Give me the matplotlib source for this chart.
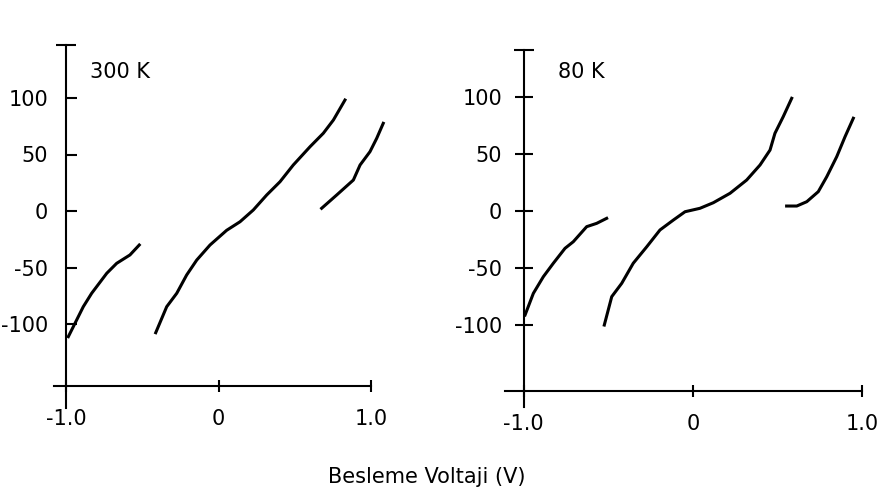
import numpy as np
import matplotlib
matplotlib.use('Agg')
import matplotlib.pyplot as plt

plt.rcParams['font.family'] = ['DejaVu Sans']

# 300 K panel: three branches (V, I)
v300_a = [-0.986, -0.888, -0.833, -0.734, -0.669, -0.582, -0.521]
i300_a = [-111.2, -84.7, -72.8, -55.1, -46.3, -38.9, -30.1]
v300_b = [-0.413, -0.341, -0.275, -0.210, -0.144, -0.057, 0.052, 0.140, 0.227,
          0.315, 0.402, 0.489, 0.599, 0.686, 0.752, 0.828]
i300_b = [-107.7, -84.7, -72.8, -56.6, -43.4, -30.1, -17.1, -9.5, 0.9,
          14.2, 25.9, 40.7, 56.9, 68.8, 80.5, 98.2]
v300_c = [0.675, 0.774, 0.883, 0.927, 0.992, 1.036, 1.079]
i300_c = [2.4, 14.2, 27.4, 40.7, 52.5, 64.3, 77.6]

# 80 K panel
v80_a = [-0.992, -0.943, -0.884, -0.825, -0.756, -0.707, -0.628, -0.569, -0.510]
i80_a = [-91.5, -72.5, -57.9, -46.1, -33.0, -27.2, -14.0, -11.1, -6.7]
v80_b = [-0.524, -0.480, -0.421, -0.353, -0.273, -0.195, -0.116, -0.047, 0.041,
         0.120, 0.219, 0.317, 0.396, 0.455, 0.484, 0.533, 0.583]
i80_b = [-100.3, -75.4, -63.7, -46.1, -31.6, -16.9, -8.2, -0.9, 2.1,
         7.0, 15.3, 26.9, 40.1, 53.2, 67.9, 82.5, 98.6]
v80_c = [0.553, 0.613, 0.672, 0.740, 0.790, 0.849, 0.898, 0.947]
i80_c = [4.1, 4.1, 7.9, 16.7, 29.8, 47.4, 64.9, 81.1]

x_ticks = [-1.0, 0.0, 1.0]
x_labels = ['-1.0', '0', '1.0']
y_ticks = [-100, -50, 0, 50, 100]
y_labels = ['-100', '-50', '0', '50', '100']

W, H = 888, 491
fig = plt.figure(figsize=(W / 100, H / 100), dpi=100)
fs = 15


def panel(rect, xlim, ylim, xaxis_y, ybounds, xbounds, series, title, title_xy,
          ytick_dir, ytick_len, ypad):
    ax = fig.add_axes(rect)
    ax.set_xlim(*xlim)
    ax.set_ylim(*ylim)
    for s in ['top', 'right']:
        ax.spines[s].set_visible(False)
    ax.spines['left'].set_position(('data', -1.0))
    ax.spines['bottom'].set_position(('data', xaxis_y))
    ax.spines['left'].set_bounds(*ybounds)
    ax.spines['bottom'].set_bounds(*xbounds)
    for s in ['left', 'bottom']:
        ax.spines[s].set_linewidth(1.5)
    ax.set_xticks(x_ticks)
    ax.set_xticklabels(x_labels)
    ax.set_yticks(y_ticks)
    ax.set_yticklabels(y_labels)
    ax.set_yticks([ybounds[1]], minor=True)
    ax.tick_params(axis='x', direction='inout', length=9, width=1.5, pad=12,
                   labelsize=fs)
    ax.tick_params(axis='y', which='major', direction=ytick_dir, length=ytick_len,
                   width=1.5, pad=ypad, labelsize=fs)
    ax.tick_params(axis='y', which='minor', direction='inout', length=14, width=1.5)
    for v, i in series:
        ax.plot(v, i, color='black', lw=2.2, clip_on=False)
    ax.text(title_xy[0], title_xy[1], title, fontsize=fs, va='center', ha='left')
    ax.patch.set_visible(False)
    return ax


# left panel: x=(px-218.7)/152.5, y=(211-py)/1.13 ; spans px 0..444, py 30..420
panel([0, (H - 420) / H, 444 / W, 390 / H],
      (-218.7 / 152.5, (444 - 218.7) / 152.5),
      ((211 - 420) / 1.13, (211 - 30) / 1.13),
      -155, (-174, 147), (-1.08, 1.0),
      [(v300_a, i300_a), (v300_b, i300_b), (v300_c, i300_c)],
      '300 K', (-0.844, 123), 'in', 8, 13)

# right panel: x=(px-693)/169.3, y=(210.7-py)/1.14 ; spans px 444..888
panel([444 / W, (H - 420) / H, 444 / W, 390 / H],
      ((444 - 693) / 169.3, (888 - 693) / 169.3),
      ((210.7 - 420) / 1.14, (210.7 - 30) / 1.14),
      -158, (-172, 141), (-1.11, 1.0),
      [(v80_a, i80_a), (v80_b, i80_b), (v80_c, i80_c)],
      '80 K', (-0.797, 121.7), 'inout', 13, 9)

fig.text(427 / W, 1 - 477 / H, 'Besleme Voltaji (V)', fontsize=fs,
         ha='center', va='center')

fig.savefig('out.png', dpi=100)
